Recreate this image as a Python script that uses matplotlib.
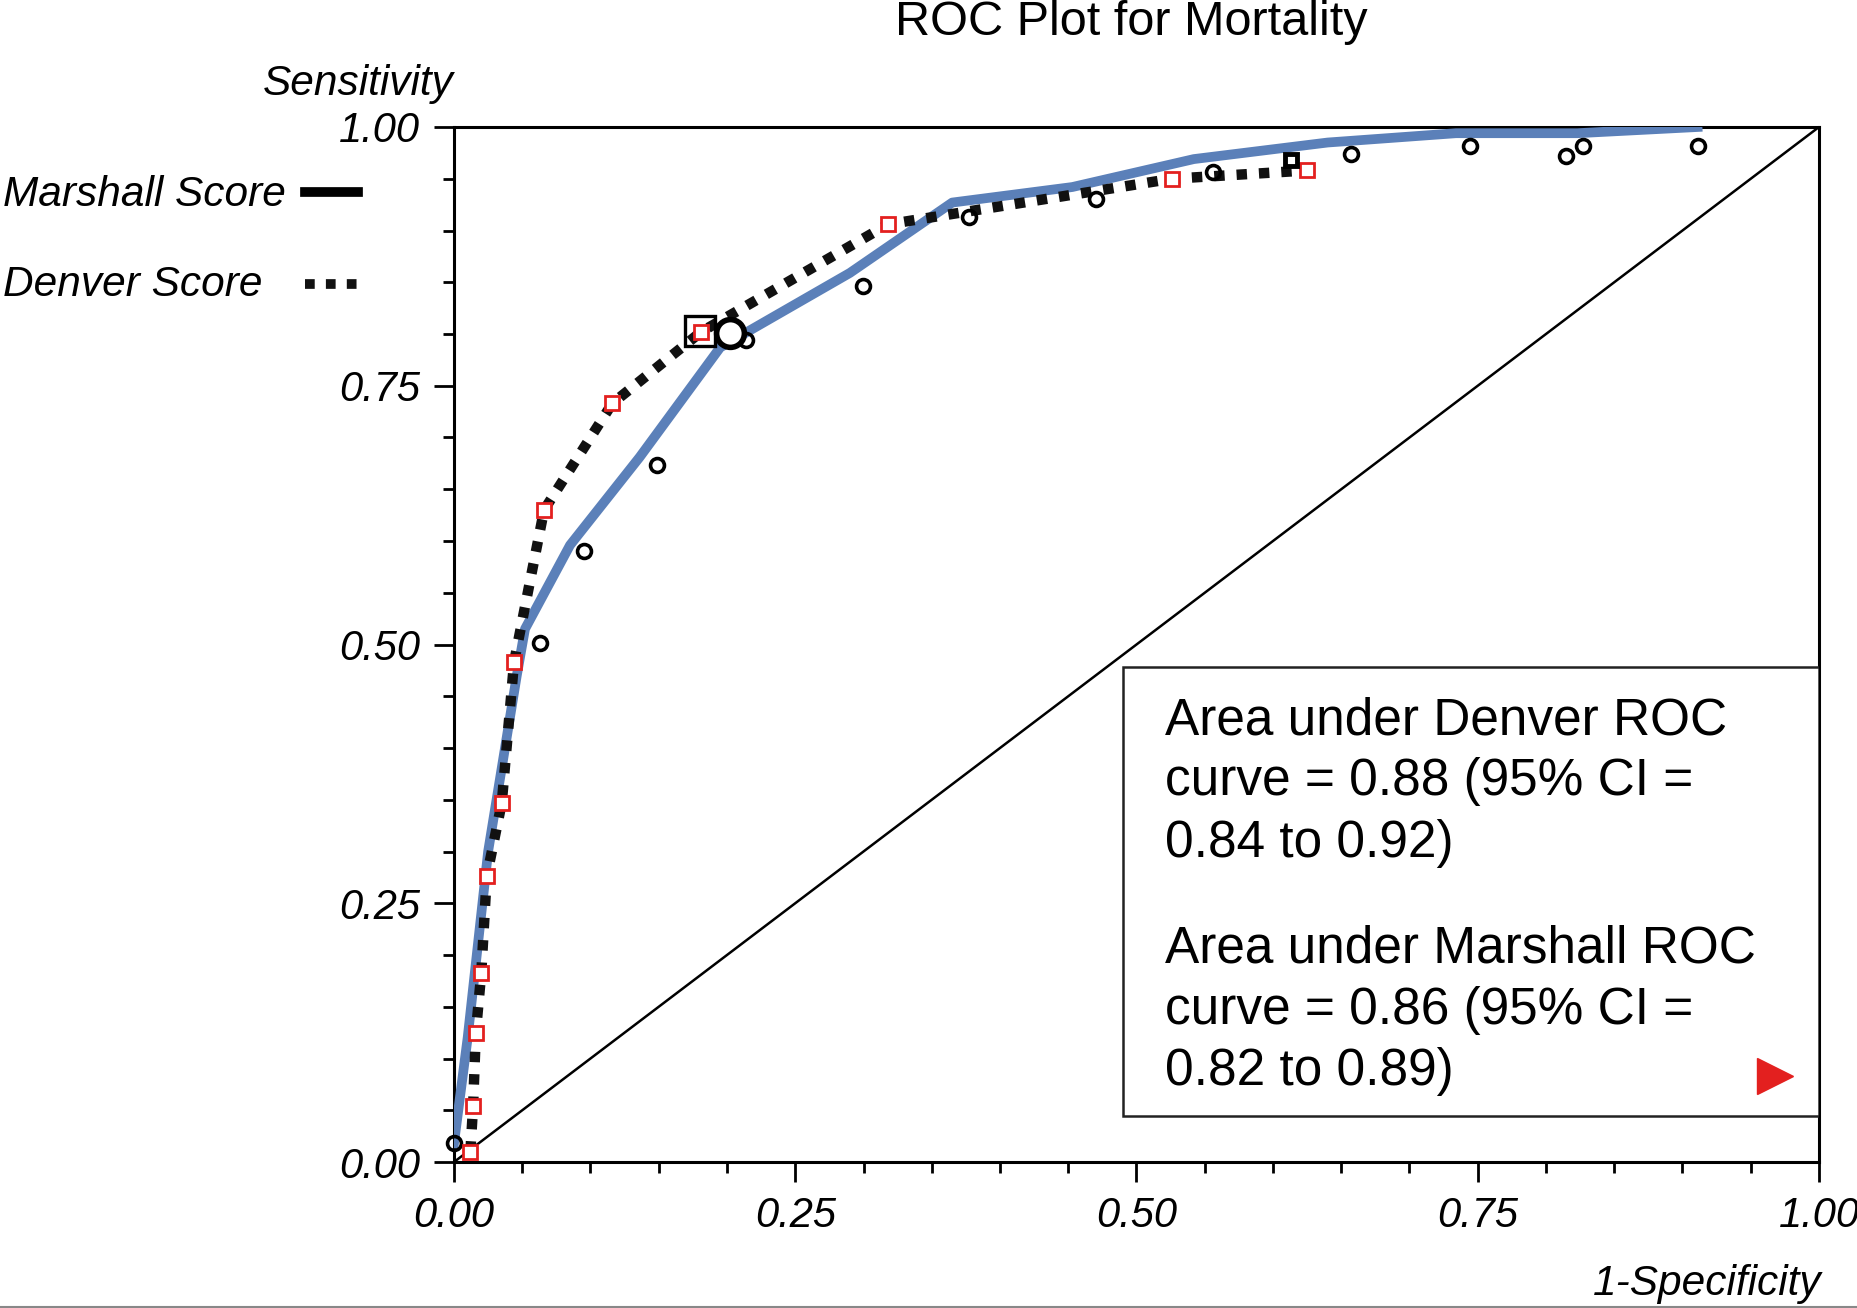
import matplotlib
matplotlib.use("Agg")
import matplotlib.pyplot as plt
from matplotlib.lines import Line2D
from matplotlib.patches import Rectangle

plt.rcParams['font.family'] = ['Liberation Sans', 'DejaVu Sans']

# Marshall score ROC (blue solid line) and its operating points (open circles)
marshall_fpr = [0.0, 0.010, 0.025, 0.046, 0.052, 0.085, 0.136, 0.195, 0.290, 0.365,
                0.453, 0.542, 0.640, 0.734, 0.823, 0.911]
marshall_tpr = [0.018, 0.12, 0.30, 0.47, 0.515, 0.596, 0.681, 0.787, 0.859, 0.927,
                0.942, 0.969, 0.985, 0.994, 0.994, 1.0]
marshall_pts_x = [0.0, 0.063, 0.095, 0.149, 0.214, 0.300, 0.377, 0.470, 0.556, 0.657,
                  0.744, 0.815, 0.827, 0.911]
marshall_pts_y = [0.018, 0.501, 0.590, 0.673, 0.794, 0.846, 0.913, 0.930, 0.957, 0.974,
                  0.982, 0.972, 0.982, 0.982]

# Denver score ROC (black dotted line) through its operating points (red squares)
denver_fpr = [0.012, 0.014, 0.016, 0.020, 0.024, 0.035, 0.044, 0.066, 0.116, 0.181,
              0.318, 0.526, 0.625]
denver_tpr = [0.010, 0.054, 0.125, 0.183, 0.276, 0.347, 0.483, 0.630, 0.733, 0.802,
              0.906, 0.950, 0.958]
denver_extra = (0.613, 0.968)

# optimal cut-offs
marshall_best = (0.202, 0.801)
denver_best = (0.180, 0.803)

ticks = [0.0, 0.25, 0.5, 0.75, 1.0]
minor = [i * 0.05 for i in range(21)]

auc_denver = "Area under Denver ROC\ncurve = 0.88 (95% CI =\n0.84 to 0.92)"
auc_marshall = "Area under Marshall ROC\ncurve = 0.86 (95% CI =\n0.82 to 0.89)"

blue = '#5b80b9'
red = '#e3201f'
dots = (0, (1, 1.15))

fig = plt.figure(figsize=(18.58, 13.08), dpi=100)
ax = fig.add_axes([454/1858, 1 - 1162/1308, 1365/1858, 1035/1308])

# diagonal
ax.plot([0, 1], [0, 1], color='black', lw=1.8)

ax.plot(marshall_fpr, marshall_tpr, color=blue, lw=7, zorder=3)
ax.plot(denver_fpr, denver_tpr, color='#111111', lw=7.5, linestyle=dots, zorder=4)

ax.plot(marshall_pts_x, marshall_pts_y, 'o', ms=10, mfc='none', mec='black', mew=2.6,
        zorder=5, clip_on=False)
ax.plot(denver_fpr, denver_tpr, 's', ms=9.5, mfc='white', mec=red, mew=2, zorder=6,
        clip_on=False)
ax.plot([denver_extra[0]], [denver_extra[1]], 's', ms=9, mfc='none', mec='black', mew=3.5,
        zorder=6)

ax.plot([denver_best[0]], [denver_best[1]], 's', ms=21, mfc='none', mec='black', mew=2.4,
        zorder=7)
ax.plot([marshall_best[0]], [marshall_best[1]], 'o', ms=20, mfc='white', mec='black', mew=4,
        zorder=7)

ax.set_xlim(0, 1)
ax.set_ylim(0, 1)
ax.set_xticks(ticks)
ax.set_yticks(ticks)
ax.set_xticks(minor, minor=True)
ax.set_yticks(minor, minor=True)
ax.set_xticklabels(['%.2f' % t for t in ticks], fontsize=30, style='italic')
ax.set_yticklabels(['%.2f' % t for t in ticks], fontsize=30, style='italic')
ax.tick_params(which='major', length=14.5, width=2, pad=10, direction='out')
ax.tick_params(which='minor', length=8, width=2, direction='out')
for s in ax.spines.values():
    s.set_linewidth(2.2)

# AUC box
ax.add_patch(Rectangle((0.490, 0.044), 0.510, 0.434, transform=ax.transAxes,
                       facecolor='white', edgecolor='#222222', lw=1.8, zorder=8))
ax.text(0.521, 0.450, auc_denver, transform=ax.transAxes, fontsize=37, va='top',
        ha='left', linespacing=1.32, zorder=9)
ax.text(0.521, 0.229, auc_marshall, transform=ax.transAxes, fontsize=37, va='top',
        ha='left', linespacing=1.32, zorder=9)
ax.plot([0.968], [0.083], marker='>', ms=26, color=red, transform=ax.transAxes,
        zorder=9)

# titles and axis labels
fig.text(0.609, 0.983, "ROC Plot for Mortality", fontsize=35, ha='center', va='center')
fig.text(454/1858, 1 - 95/1308, "Sensitivity", fontsize=30.5, style='italic',
         ha='right', va='baseline')
fig.text(1822/1858, 1 - 1295/1308, "1-Specificity", fontsize=30.5, style='italic',
         ha='right', va='baseline')

# legend on the left
fig.text(3/1858, 1 - 206/1308, "Marshall Score", fontsize=30.5, style='italic',
         ha='left', va='baseline')
fig.text(3/1858, 1 - 296/1308, "Denver Score", fontsize=30.5, style='italic',
         ha='left', va='baseline')
fig.add_artist(Line2D([305/1858, 358/1858], [1 - 192/1308, 1 - 192/1308],
                      color='black', lw=7, transform=fig.transFigure))
fig.add_artist(Line2D([305/1858, 360/1858], [1 - 284/1308, 1 - 284/1308],
                      color='#111111', lw=7, linestyle=dots,
                      transform=fig.transFigure))

# thin grey frame line at the bottom
fig.add_artist(Line2D([0, 1], [1.5/1308, 1.5/1308], color='#888888', lw=1.5,
                      transform=fig.transFigure))

fig.savefig('out.png', dpi=100)
